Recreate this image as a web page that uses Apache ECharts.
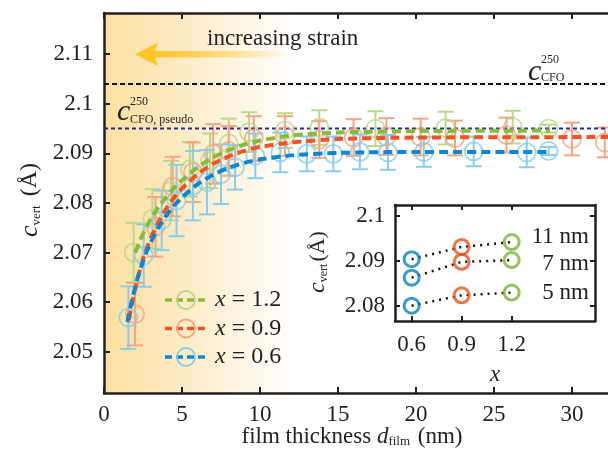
<!DOCTYPE html>
<html>
<head>
<meta charset="utf-8">
<script src="https://cdn.jsdelivr.net/npm/echarts@6/dist/echarts.min.js"></script>
<style>
html, body { margin: 0; padding: 0; background: #fff; }
#chart { width: 608px; height: 456px; }
</style>
</head>
<body>
<div id="chart"></div>
<script>
// ---- main panel data: film thickness (nm), c_vert (Å), error (Å)
var thick06 = [1.56, 2.55, 3.7, 4.65, 5.7, 6.6, 7.5, 8.4, 9.7, 11.3, 13.0, 14.7, 16.4, 18.2, 20.5, 23.7, 27.1, 28.5];
var cvert06 = [2.0569, 2.0694, 2.0765, 2.0805, 2.0835, 2.0842, 2.0858, 2.0872, 2.0895, 2.0902, 2.0899, 2.0899, 2.0903, 2.0902, 2.0903, 2.0904, 2.0902, 2.0905];
var err06   = [0.0063, 0.0063, 0.006, 0.0072, 0.007, 0.0065, 0.006, 0.0045, 0.0045, 0.004, 0.0035, 0.0035, 0.0035, 0.0035, 0.003, 0.003, 0.003, 0.0008];

var thick09 = [1.99, 3.3, 4.4, 5.7, 7.0, 8.0, 9.6, 11.6, 13.8, 16.0, 18.1, 20.3, 22.5, 25.8, 30.0, 32.1];
var cvert09 = [2.0576, 2.0752, 2.0833, 2.0862, 2.0899, 2.0905, 2.0930, 2.0935, 2.0928, 2.0932, 2.0934, 2.0933, 2.0931, 2.0937, 2.0929, 2.0922];
var err09   = [0.0063, 0.006, 0.006, 0.006, 0.006, 0.005, 0.0045, 0.004, 0.0037, 0.0037, 0.0037, 0.0037, 0.0035, 0.0035, 0.0033, 0.003];

var thick12 = [1.9, 3.1, 4.3, 5.5, 6.8, 8.0, 9.3, 11.6, 13.8, 17.4, 21.9, 26.2, 28.5];
var cvert12 = [2.0700, 2.0768, 2.0825, 2.0868, 2.0885, 2.0920, 2.0943, 2.0946, 2.0952, 2.0950, 2.0951, 2.0953, 2.0950];
var err12   = [0.006, 0.006, 0.006, 0.0055, 0.0055, 0.005, 0.004, 0.0035, 0.0035, 0.0035, 0.0033, 0.0033, 0.0008];

// fitted curves
var fitX06 = [1.5, 1.75, 2, 2.25, 2.5, 2.75, 3, 3.5, 4, 4.5, 5, 6, 7, 8, 9, 10, 12, 15, 20, 28.5];
var fitY06 = [2.0560, 2.0598, 2.0631, 2.0659, 2.0682, 2.0703, 2.0721, 2.0751, 2.0775, 2.0795, 2.0811, 2.0838, 2.0857, 2.0871, 2.0881, 2.0888, 2.0896, 2.0901, 2.0903, 2.0903];
var fitX09 = [1.6, 1.8, 2, 2.25, 2.5, 2.75, 3, 3.5, 4, 4.5, 5, 6, 7, 8, 9, 10, 12, 15, 20, 34];
var fitY09 = [2.0565, 2.0598, 2.0627, 2.0659, 2.0686, 2.0709, 2.0729, 2.0762, 2.0789, 2.0811, 2.0829, 2.0858, 2.0879, 2.0894, 2.0905, 2.0913, 2.0922, 2.0929, 2.0932, 2.0933];
var fitX12 = [2.0, 2.25, 2.5, 2.75, 3, 3.5, 4, 4.5, 5, 6, 7, 8, 9, 10, 12, 15, 20, 28.6];
var fitY12 = [2.0700, 2.0720, 2.0738, 2.0754, 2.0768, 2.0792, 2.0812, 2.0831, 2.0846, 2.0872, 2.0892, 2.0907, 2.0918, 2.0926, 2.0936, 2.0942, 2.0945, 2.0946];

var refBulk = 2.104;     // c_CFO^250
var refPseudo = 2.095;   // c_CFO,pseudo^250

var mainYTicks = [2.05, 2.06, 2.07, 2.08, 2.09, 2.1, 2.11];

// ---- inset data: x vs c_vert at fixed thickness
var insetX = [0.6, 0.9, 1.2];
var inset11 = [2.0904, 2.0931, 2.0942];
var inset7  = [2.0863, 2.0898, 2.0902];
var inset5  = [2.0801, 2.0824, 2.0830];
var insetYTicks = [2.08, 2.09, 2.1];

var FONT = "'Liberation Serif', 'Times New Roman', serif";
var INK = '#231f20';

var light = { c06: '#86cdee', c09: '#f5a484', c12: '#b9d88a' };
var dark  = { c06: '#0f86d2', c09: '#ef5326', c12: '#86bb3c' };
var vivid = ['#0b7fc7', '#e8521f', '#7bb43a'];

function zip(a, b, c) {
    return a.map(function (v, i) { return c ? [v, b[i], c[i]] : [v, b[i]]; });
}

function errBars(color) {
    return function (params, api) {
        var x = api.value(0), y = api.value(1), e = api.value(2);
        var top = api.coord([x, y + e]);
        var bot = api.coord([x, y - e]);
        var hw = 8;
        var st = { stroke: color, lineWidth: 2 };
        return {
            type: 'group',
            children: [
                { type: 'line', shape: { x1: top[0], y1: top[1], x2: bot[0], y2: bot[1] }, style: st },
                { type: 'line', shape: { x1: top[0] - hw, y1: top[1], x2: top[0] + hw, y2: top[1] }, style: st },
                { type: 'line', shape: { x1: bot[0] - hw, y1: bot[1], x2: bot[0] + hw, y2: bot[1] }, style: st }
            ]
        };
    };
}

function errSeries(t, c, e, color) {
    return { type: 'custom', xAxisIndex: 0, yAxisIndex: 0, renderItem: errBars(color), data: zip(t, c, e), z: 2, silent: true };
}
function markSeries(t, c, color) {
    return {
        type: 'scatter', xAxisIndex: 0, yAxisIndex: 0, data: zip(t, c), symbol: 'circle', symbolSize: 18, z: 3,
        itemStyle: { color: 'rgba(255,255,255,0)', borderColor: color, borderWidth: 1.8 }
    };
}
function fitSeries(x, y, color) {
    return {
        type: 'line', xAxisIndex: 0, yAxisIndex: 0, data: zip(x, y), symbol: 'none', smooth: 0.2, z: 4,
        lineStyle: { color: color, width: 4, type: [9, 5] }
    };
}
function refSeries(v, color, dash) {
    return {
        type: 'line', xAxisIndex: 0, yAxisIndex: 0, data: [[0, v], [35, v]], symbol: 'none', z: 2,
        lineStyle: { color: color, width: 2, type: dash }
    };
}
function insetLine(vals) {
    return {
        type: 'line', xAxisIndex: 2, yAxisIndex: 1, data: zip(insetX, vals), symbol: 'none', z: 5,
        lineStyle: { color: '#111', width: 2.5, type: [2, 5] }
    };
}
function insetMarks(i) {
    return {
        type: 'scatter', xAxisIndex: 2, yAxisIndex: 1, symbol: 'circle', symbolSize: 15, z: 6,
        data: [[insetX[i], inset11[i]], [insetX[i], inset7[i]], [insetX[i], inset5[i]]],
        itemStyle: { color: 'rgba(255,255,255,0)', borderColor: vivid[i], borderWidth: 3 }
    };
}

var axLine = { lineStyle: { color: INK, width: 2.5 } };
var tickIn = { inside: true, length: 6, lineStyle: { color: INK, width: 2 } };
var fmt2 = function (v) { return String(+(+v).toFixed(2)); };

var chart = echarts.init(document.getElementById('chart'));

var option = {
    animation: false,
    grid: [
        {
            left: 104, top: 13, height: 380, width: 546, outerBoundsMode: 'none', containLabel: false,
            show: true, borderWidth: 0,
            backgroundColor: new echarts.graphic.LinearGradient(0, 0, 1, 0, [
                { offset: 0, color: '#fde0a0' },
                { offset: 0.12, color: '#fde9bf' },
                { offset: 0.35, color: '#ffffff' }
            ])
        },
        { left: 395, top: 205, width: 200, height: 116, outerBoundsMode: 'none', containLabel: false, show: true, borderWidth: 0, backgroundColor: '#fff' }
    ],
    xAxis: [
        {
            gridIndex: 0, type: 'value', min: 0, max: 35, interval: 5, position: 'bottom',
            axisLine: axLine, axisTick: tickIn, splitLine: { show: false },
            axisLabel: { color: INK, fontFamily: FONT, fontSize: 23, margin: 10 }
        },
        {
            gridIndex: 0, type: 'value', min: 0, max: 35, interval: 5, position: 'top',
            axisLine: axLine, axisTick: tickIn, splitLine: { show: false }, axisLabel: { show: false }
        },
        {
            gridIndex: 1, type: 'value', min: 0.5, max: 1.7, position: 'bottom',
            axisLine: axLine,
            axisTick: { inside: true, length: 5, lineStyle: { color: INK, width: 2 }, customValues: insetX },
            axisLabel: { color: INK, fontFamily: FONT, fontSize: 23, margin: 12, customValues: insetX, formatter: function (v) { return (+v).toFixed(1); } },
            splitLine: { show: false },
            name: 'x', nameLocation: 'middle', nameGap: 42,
            nameTextStyle: { color: INK, fontFamily: FONT, fontSize: 23, fontStyle: 'italic' }
        },
        {
            gridIndex: 1, type: 'value', min: 0.5, max: 1.7, position: 'top',
            axisLine: axLine,
            axisTick: { inside: true, length: 5, lineStyle: { color: INK, width: 2 }, customValues: insetX },
            axisLabel: { show: false }, splitLine: { show: false }
        }
    ],
    yAxis: [
        {
            gridIndex: 0, type: 'value', min: 2.0417, max: 2.1183, position: 'left',
            axisLine: axLine,
            axisTick: { inside: true, length: 6, lineStyle: { color: INK, width: 2 }, customValues: mainYTicks },
            axisLabel: { color: INK, fontFamily: FONT, fontSize: 23, margin: 11, customValues: mainYTicks, formatter: fmt2 },
            splitLine: { show: false }
        },
        {
            gridIndex: 1, type: 'value', min: 2.0767, max: 2.1024, position: 'left',
            axisLine: axLine,
            axisTick: { inside: true, length: 5, lineStyle: { color: INK, width: 2 }, customValues: insetYTicks },
            axisLabel: { color: INK, fontFamily: FONT, fontSize: 23, margin: 10, customValues: insetYTicks, formatter: fmt2 },
            splitLine: { show: false }
        },
        {
            gridIndex: 1, type: 'value', min: 2.0767, max: 2.1024, position: 'right',
            axisLine: axLine,
            axisTick: { inside: true, length: 5, lineStyle: { color: INK, width: 2 }, customValues: insetYTicks },
            axisLabel: { show: false }, splitLine: { show: false }
        }
    ],
    series: [
        refSeries(refBulk, '#111', [5, 3]),
        refSeries(refPseudo, '#2b2a8c', [4, 3]),
        errSeries(thick12, cvert12, err12, light.c12),
        errSeries(thick09, cvert09, err09, light.c09),
        errSeries(thick06, cvert06, err06, light.c06),
        markSeries(thick12, cvert12, light.c12),
        markSeries(thick09, cvert09, light.c09),
        markSeries(thick06, cvert06, light.c06),
        fitSeries(fitX12, fitY12, dark.c12),
        fitSeries(fitX09, fitY09, dark.c09),
        fitSeries(fitX06, fitY06, dark.c06),
        insetLine(inset11),
        insetLine(inset7),
        insetLine(inset5),
        insetMarks(0),
        insetMarks(1),
        insetMarks(2)
    ],
    graphic: [
        // strain arrow
        {
            type: 'rect', shape: { x: 152, y: 51, width: 140, height: 6.5 }, z: 10, silent: true,
            style: { fill: new echarts.graphic.LinearGradient(0, 0, 1, 0, [
                { offset: 0, color: 'rgba(255,196,37,1)' },
                { offset: 1, color: 'rgba(255,196,37,0)' }
            ]) }
        },
        { type: 'polygon', shape: { points: [[135, 54.3], [158, 42.5], [154, 54.3], [158, 66]] }, z: 10, silent: true, style: { fill: '#ffc425' } },
        { type: 'text', left: 207, top: 27, z: 10, style: { text: 'increasing strain', font: '23px ' + FONT, fill: INK } },

        // reference line labels
        { type: 'text', x: 528, y: 72, z: 10, style: { text: 'c', font: 'italic 30px ' + FONT, fill: INK, verticalAlign: 'middle' } },
        { type: 'text', x: 541, y: 60, z: 10, style: { text: '250', font: '12px ' + FONT, fill: INK, verticalAlign: 'middle' } },
        { type: 'text', x: 541, y: 78, z: 10, style: { text: 'CFO', font: '12px ' + FONT, fill: INK, verticalAlign: 'middle' } },
        { type: 'text', x: 117, y: 112, z: 10, style: { text: 'c', font: 'italic 30px ' + FONT, fill: INK, verticalAlign: 'middle' } },
        { type: 'text', x: 130, y: 102, z: 10, style: { text: '250', font: '12px ' + FONT, fill: INK, verticalAlign: 'middle' } },
        { type: 'text', x: 130, y: 120, z: 10, style: { text: 'CFO, pseudo', font: '12px ' + FONT, fill: INK, verticalAlign: 'middle' } },

        // main axis titles
        {
            type: 'text', x: 352, y: 437, z: 10,
            style: {
                text: 'film thickness {i|d}{s|film} (nm)', align: 'center', verticalAlign: 'middle',
                font: '23px ' + FONT, fill: INK,
                rich: {
                    i: { fontFamily: FONT, fontSize: 23, fontStyle: 'italic', fill: INK },
                    s: { fontFamily: FONT, fontSize: 13, fill: INK, verticalAlign: 'bottom', padding: [10, 2, 0, 0] }
                }
            }
        },
        {
            type: 'text', x: 30, y: 200, rotation: Math.PI / 2, z: 10,
            style: {
                text: '{i|c}{s|vert} (Å)', align: 'center', verticalAlign: 'middle',
                font: '24px ' + FONT, fill: INK,
                rich: {
                    i: { fontFamily: FONT, fontSize: 26, fontStyle: 'italic', fill: INK },
                    s: { fontFamily: FONT, fontSize: 13, fill: INK, verticalAlign: 'bottom', padding: [10, 3, 0, 0] }
                }
            }
        },
        {
            type: 'text', x: 318, y: 262, rotation: Math.PI / 2, z: 10,
            style: {
                text: '{i|c}{s|vert}(Å)', align: 'center', verticalAlign: 'middle',
                font: '22px ' + FONT, fill: INK,
                rich: {
                    i: { fontFamily: FONT, fontSize: 24, fontStyle: 'italic', fill: INK },
                    s: { fontFamily: FONT, fontSize: 12, fill: INK, verticalAlign: 'bottom', padding: [10, 2, 0, 0] }
                }
            }
        },

        // inset thickness labels
        { type: 'text', x: 589, y: 237, z: 10, style: { text: '11 nm', font: '23px ' + FONT, fill: INK, align: 'right', verticalAlign: 'middle' } },
        { type: 'text', x: 589, y: 264, z: 10, style: { text: '7 nm', font: '23px ' + FONT, fill: INK, align: 'right', verticalAlign: 'middle' } },
        { type: 'text', x: 589, y: 293, z: 10, style: { text: '5 nm', font: '23px ' + FONT, fill: INK, align: 'right', verticalAlign: 'middle' } },

        // legend
        { type: 'line', shape: { x1: 165, y1: 300, x2: 206, y2: 300 }, z: 10, style: { stroke: dark.c12, lineWidth: 3.5, lineDash: [7, 4] } },
        { type: 'circle', shape: { cx: 186, cy: 300, r: 9 }, z: 11, style: { fill: 'none', stroke: light.c12, lineWidth: 1.8 } },
        { type: 'line', shape: { x1: 165, y1: 328.5, x2: 206, y2: 328.5 }, z: 10, style: { stroke: dark.c09, lineWidth: 3.5, lineDash: [7, 4] } },
        { type: 'circle', shape: { cx: 186, cy: 328.5, r: 9 }, z: 11, style: { fill: 'none', stroke: light.c09, lineWidth: 1.8 } },
        { type: 'line', shape: { x1: 165, y1: 357, x2: 206, y2: 357 }, z: 10, style: { stroke: dark.c06, lineWidth: 3.5, lineDash: [7, 4] } },
        { type: 'circle', shape: { cx: 186, cy: 357, r: 9 }, z: 11, style: { fill: 'none', stroke: light.c06, lineWidth: 1.8 } },
        { type: 'text', x: 215, y: 300, z: 10, style: { text: '{i|x} = 1.2', font: '24px ' + FONT, fill: INK, verticalAlign: 'middle', rich: { i: { fontFamily: FONT, fontSize: 24, fontStyle: 'italic', fill: INK } } } },
        { type: 'text', x: 215, y: 328.5, z: 10, style: { text: '{i|x} = 0.9', font: '24px ' + FONT, fill: INK, verticalAlign: 'middle', rich: { i: { fontFamily: FONT, fontSize: 24, fontStyle: 'italic', fill: INK } } } },
        { type: 'text', x: 215, y: 357, z: 10, style: { text: '{i|x} = 0.6', font: '24px ' + FONT, fill: INK, verticalAlign: 'middle', rich: { i: { fontFamily: FONT, fontSize: 24, fontStyle: 'italic', fill: INK } } } }
    ]
};

chart.setOption(option);
</script>
</body>
</html>
